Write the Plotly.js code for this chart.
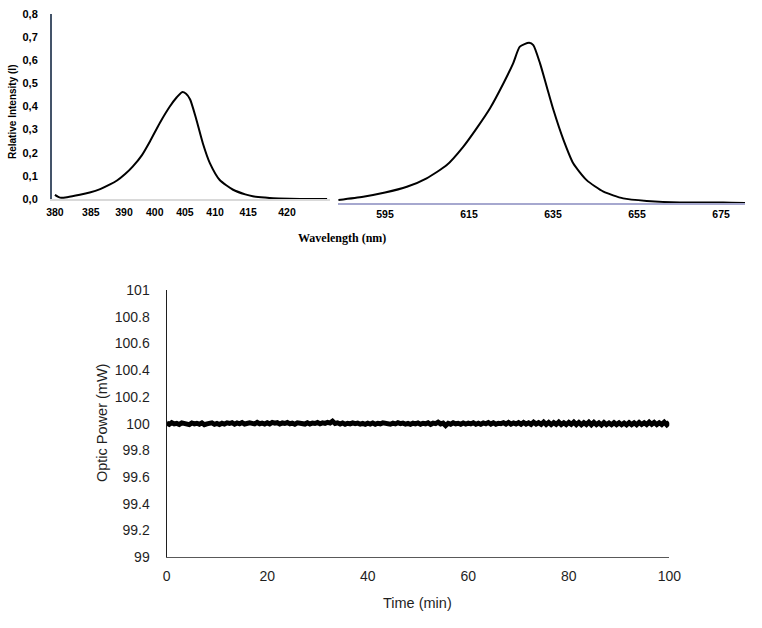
<!DOCTYPE html>
<html>
<head>
<meta charset="utf-8">
<script src="https://cdn.plot.ly/plotly-3.0.1.min.js"></script>
<style>html,body{margin:0;padding:0;background:#fff;}#chart{width:762px;height:628px;}</style>
</head>
<body>
<div id="chart"></div>
<script>
// ---- Top chart: violet band (left panel), axis units aligned to printed tick labels
const violetX = [380.0, 380.9, 382.1, 384.3, 386.0, 387.8, 389.5, 390.7, 392.1, 393.4, 395.0, 396.4, 398.1, 399.8, 401.0, 401.9, 402.6, 403.3, 404.3, 405.5, 406.7, 408.4, 410.7, 412.8, 414.1, 416.2, 417.6, 420.5, 424.0, 426.9];
const violetY = [0.018, 0.006, 0.008, 0.018, 0.028, 0.043, 0.063, 0.080, 0.108, 0.140, 0.190, 0.250, 0.330, 0.400, 0.440, 0.462, 0.455, 0.430, 0.350, 0.240, 0.155, 0.082, 0.040, 0.020, 0.012, 0.006, 0.003, 0.001, 0.000, 0.000];
const violetTickVals = [380, 386.2, 391.9, 397.2, 402.4, 407.6, 413.3, 420];
const violetTickText = ['380', '385', '390', '400', '405', '410', '415', '420'];

// ---- Top chart: red band (right panel), wavelength in nm
const redX = [583.9, 589.8, 595.0, 600.2, 604.9, 609.7, 613.6, 616.8, 620.0, 623.2, 625.5, 627.1, 629.3, 630.3, 631.9, 633.5, 635.1, 637.5, 639.8, 643.0, 647.0, 651.7, 657.3, 665.2, 675.5, 680.7];
const redY = [0.013, 0.027, 0.045, 0.070, 0.107, 0.164, 0.243, 0.323, 0.410, 0.518, 0.604, 0.676, 0.693, 0.683, 0.604, 0.503, 0.402, 0.272, 0.172, 0.099, 0.049, 0.020, 0.009, 0.002, 0.002, 0.000];
const redTickVals = [595, 615, 635, 655, 675];

const intensityTickVals = [0, 0.1, 0.2, 0.3, 0.4, 0.5, 0.6, 0.7, 0.8];
const intensityTickText = ['0,0', '0,1', '0,2', '0,3', '0,4', '0,5', '0,6', '0,7', '0,8'];

// ---- Bottom chart: optic power (mW), sampled every 0.5 min from 0 to 100 min
const powerStart = 0;
const powerStep = 0.5;
const power = [
100.004, 99.995, 100.007, 99.998, 100.002, 99.994, 100.006, 100.001, 99.996, 99.993, 100.005, 99.998, 100.003, 99.996, 100.006, 99.992, 99.998, 100.004, 100.006, 99.995, 100.002,
99.994, 100.003, 99.997, 100.006, 100.001, 100.007, 99.996, 100.005, 99.999, 100.008, 99.997, 100.004, 100.006, 100.002, 99.998, 100.009, 99.999, 100.004, 99.997, 100.006,
99.998, 100.009, 100.003, 100.007, 99.997, 100.005, 100.001, 100.008, 99.999, 100.004, 99.996, 100.006, 100.002, 100.004, 99.997, 100.007, 99.998, 100.005, 100.001, 100.008,
99.999, 100.006, 100.002, 100.009, 100.004, 100.018, 100.001, 100.006, 99.997, 100.005, 99.996, 100.003, 99.998, 100.006, 100.000, 100.004, 99.996, 100.002, 99.995, 100.004,
99.997, 100.005, 99.996, 100.003, 99.999, 100.006, 100.001, 100.003, 99.996, 100.004, 99.998, 100.007, 100.000, 100.004, 99.997, 100.002, 99.995, 100.003, 99.998, 100.005,
99.996, 100.003, 99.999, 100.006, 99.995, 100.004, 100.000, 100.011, 99.998, 100.004, 99.986, 100.003, 99.996, 100.006, 99.999, 100.003, 99.995, 100.005, 99.997, 100.004,
99.998, 100.007, 99.996, 100.004, 99.995, 100.005, 99.999, 100.008, 99.997, 100.006, 99.996, 100.003, 100.000, 100.007, 99.997, 100.009, 99.996, 100.005, 99.998, 100.007,
99.995, 100.009, 99.996, 100.006, 99.994, 100.011, 99.997, 100.007, 99.995, 100.012, 99.994, 100.009, 99.993, 100.008, 99.995, 100.011, 99.994, 100.007, 99.993, 100.009,
99.995, 100.011, 99.993, 100.009, 99.992, 100.007, 99.994, 100.011, 99.992, 100.009, 99.993, 100.006, 99.991, 100.008, 99.993, 100.005, 99.992, 100.007, 99.993, 100.006,
99.992, 100.005, 99.991, 100.007, 99.993, 100.006, 99.992, 100.009, 99.994, 100.007, 99.993, 100.011, 99.995, 100.009, 99.993, 100.007, 99.994, 100.011, 99.992, 100.009
];

const W = 762, H = 628;
const px = v => v / W;
const py = v => 1 - v / H;

const boldX = {family: 'Liberation Sans, Arial, sans-serif', size: 10.5, color: '#000', weight: 'bold'};
const boldY = {family: 'Liberation Sans, Arial, sans-serif', size: 11, color: '#000', weight: 'bold'};
const plainSans = {family: 'Liberation Sans, Arial, sans-serif', size: 14, color: '#1f1f1f'};

const traces = [
  {x: violetX, y: violetY, xaxis: 'x', yaxis: 'y', mode: 'lines', line: {color: '#000', width: 2, shape: 'spline', smoothing: 0.6}, hoverinfo: 'skip'},
  {x: redX, y: redY, xaxis: 'x2', yaxis: 'y2', mode: 'lines', line: {color: '#000', width: 2, shape: 'spline', smoothing: 0.6}, hoverinfo: 'skip'},
  {y: power, x0: powerStart, dx: powerStep, xaxis: 'x3', yaxis: 'y3', mode: 'lines', line: {color: '#000', width: 5}, hoverinfo: 'skip'}
];

const layout = {
  width: W, height: H,
  margin: {l: 0, r: 0, t: 0, b: 0},
  paper_bgcolor: '#fff', plot_bgcolor: 'rgba(0,0,0,0)',
  showlegend: false,
  xaxis: {domain: [px(52), px(330)], range: [379.5, 427.4], anchor: 'y',
    tickmode: 'array', tickvals: violetTickVals, ticktext: violetTickText,
    showgrid: false, zeroline: false, showline: true, linecolor: '#d9d9d9', linewidth: 1.5,
    ticks: '', tickfont: boldX, ticklabelstandoff: 3},
  yaxis: {domain: [py(199), py(14)], range: [0, 0.8], anchor: 'x',
    tickmode: 'array', tickvals: intensityTickVals, ticktext: intensityTickText,
    showgrid: false, zeroline: false, showline: true, linecolor: '#44546a', linewidth: 2,
    ticks: '', tickfont: boldY, ticklabelstandoff: 10},
  xaxis2: {domain: [px(338), px(745)], range: [583.8, 680.7], anchor: 'y2',
    tickmode: 'array', tickvals: redTickVals,
    showgrid: false, zeroline: false, showline: true, linecolor: '#a6a8cf', linewidth: 2,
    ticks: '', tickfont: boldX, ticklabelstandoff: 0},
  yaxis2: {domain: [py(203), py(18)], range: [0, 0.8], anchor: 'x2', visible: false},
  xaxis3: {domain: [px(166.7), px(669.3)], range: [0, 100], anchor: 'y3', dtick: 20,
    showgrid: false, zeroline: false, showline: true, linecolor: '#595959', linewidth: 1,
    ticks: '', tickfont: plainSans, ticklabelstandoff: 6},
  yaxis3: {domain: [py(557.3), py(290)], range: [99, 101], anchor: 'x3', dtick: 0.2,
    tickformat: '~r',
    showgrid: false, zeroline: false, showline: true, linecolor: '#1f1f1f', linewidth: 1.2,
    ticks: '', tickfont: plainSans, ticklabelstandoff: 13},
  annotations: [
    {text: 'Relative Intensity (I)', xref: 'paper', yref: 'paper', x: px(13), y: py(112), showarrow: false,
      textangle: -90, font: {family: 'Liberation Sans, Arial, sans-serif', size: 10, color: '#000', weight: 'bold'}, xanchor: 'center', yanchor: 'middle'},
    {text: 'Wavelength (nm)', xref: 'paper', yref: 'paper', x: px(342), y: py(238), showarrow: false,
      font: {family: 'Liberation Serif, serif', size: 12, color: '#000', weight: 'bold'}, xanchor: 'center', yanchor: 'middle'},
    {text: 'Time (min)', xref: 'paper', yref: 'paper', x: px(418), y: py(603), showarrow: false,
      font: {family: 'Liberation Sans, Arial, sans-serif', size: 14.5, color: '#1f1f1f'}, xanchor: 'center', yanchor: 'middle'},
    {text: 'Optic Power (mW)', xref: 'paper', yref: 'paper', x: px(102), y: py(423), showarrow: false, textangle: -90,
      font: {family: 'Liberation Sans, Arial, sans-serif', size: 14.5, color: '#1f1f1f'}, xanchor: 'center', yanchor: 'middle'}
  ]
};

Plotly.newPlot('chart', traces, layout, {staticPlot: true, displayModeBar: false});
</script>
</body>
</html>
